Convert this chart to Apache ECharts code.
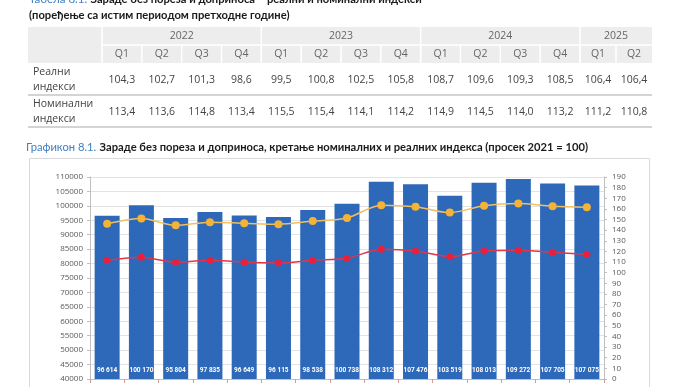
<!DOCTYPE html>
<html><head><meta charset="utf-8">
<script src="https://cdn.jsdelivr.net/npm/echarts/dist/echarts.min.js"></script>
<style>html,body{margin:0;padding:0;background:#fff}#c{width:688px;height:387px}</style>
</head><body><div id="c"></div>
<script>
// ---- table data ----
const tableYears = ['2022', '2023', '2024', '2025'];
const tableYearSpans = [4, 4, 4, 2];
const tableQuarters = ['Q1','Q2','Q3','Q4','Q1','Q2','Q3','Q4','Q1','Q2','Q3','Q4','Q1','Q2'];
const tableRealRow = ['104,3','102,7','101,3','98,6','99,5','100,8','102,5','105,8','108,7','109,6','109,3','108,5','106,4','106,4'];
const tableNominalRow = ['113,4','113,6','114,8','113,4','115,5','115,4','114,1','114,2','114,9','114,5','114,0','113,2','111,2','110,8'];
const tableRowLabels = [['Реални', 'индекси'], ['Номинални', 'индекси']];

// ---- chart data ----
const categories = ['1','2','3','4','5','6','7','8','9','10','11','12','13','14','15'];
const salaries = [96614, 100170, 95804, 97835, 96649, 96115, 98538, 100738, 108312, 107476, 103519, 108013, 109272, 107705, 107075];
const nominalIndex = [146, 151, 144.5, 147.5, 146.5, 145.5, 148.5, 151.5, 163.5, 162, 156.5, 163, 165, 162.5, 161.5];
const realIndex = [111.7, 114.5, 109.8, 111.7, 109.8, 109.1, 111.7, 113.5, 122, 120.4, 115.1, 120.4, 121.1, 119.2, 117.3];

const FONT = '"Open Sans", "Noto Sans", sans-serif';
const TFONT = 'Lato, "Open Sans", sans-serif';
const chart = echarts.init(document.getElementById('c'), null, {renderer: 'canvas'});

// table layout
const tX0 = 28, tX1 = 652, labelColR = 102;
const colEdges = [labelColR];
for (let i = 0; i < 12; i++) colEdges.push(labelColR + (i + 1) * (580 - labelColR) / 12);
colEdges.push(616, 652);
const yHead0 = 27, yHead1 = 45, yHead2 = 63, yRow1 = 95, yRow2 = 127;

const g = [];
g.push({type: 'text', x: 29, y: -0.5, style: {
  text: '{b|Табела 8.1.} {k|Зараде без пореза и доприноса – реални и номинални индекси}', verticalAlign: 'middle',
  rich: {b: {fill: '#3f80c4', font: '11.5px ' + TFONT}, k: {fill: '#1a1a1a', font: 'bold 11.2px ' + TFONT}}
}});
g.push({type: 'text', x: 29, y: 15, style: {text: '(поређење са истим периодом претходне године)', fill: '#1a1a1a', font: 'bold 11.2px ' + TFONT, verticalAlign: 'middle'}});
g.push({type: 'rect', shape: {x: tX0, y: yHead0, width: tX1 - tX0, height: yHead2 - yHead0}, style: {fill: '#ededed'}});
g.push({type: 'line', shape: {x1: labelColR, y1: yHead1, x2: tX1, y2: yHead1}, style: {stroke: '#fff', lineWidth: 1.5}});
let ci = 0;
tableYears.forEach((yr, k) => {
  const xa = colEdges[ci], xb = colEdges[ci + tableYearSpans[k]];
  g.push({type: 'line', shape: {x1: xa, y1: yHead0, x2: xa, y2: yHead2}, style: {stroke: '#fff', lineWidth: 1.5}});
  g.push({type: 'text', x: (xa + xb) / 2, y: (yHead0 + yHead1) / 2, style: {text: yr, fill: '#666', font: '10.5px ' + FONT, align: 'center', verticalAlign: 'middle'}});
  ci += tableYearSpans[k];
});
tableQuarters.forEach((q, i) => {
  const xa = colEdges[i], xb = colEdges[i + 1];
  if (i > 0) g.push({type: 'line', shape: {x1: xa, y1: yHead1, x2: xa, y2: yHead2}, style: {stroke: '#fff', lineWidth: 1.5}});
  const xc = (xa + xb) / 2;
  g.push({type: 'text', x: xc, y: (yHead1 + yHead2) / 2, style: {text: q, fill: '#666', font: '10.5px ' + FONT, align: 'center', verticalAlign: 'middle'}});
  g.push({type: 'text', x: xc, y: (yHead2 + yRow1) / 2 + 1, style: {text: tableRealRow[i], fill: '#444', font: '10.5px ' + FONT, align: 'center', verticalAlign: 'middle'}});
  g.push({type: 'text', x: xc, y: (yRow1 + yRow2) / 2 + 1, style: {text: tableNominalRow[i], fill: '#444', font: '10.5px ' + FONT, align: 'center', verticalAlign: 'middle'}});
});
[[yHead2, yRow1], [yRow1, yRow2]].forEach((r, k) => {
  g.push({type: 'text', x: 33, y: (r[0] + r[1]) / 2 + 1, style: {text: tableRowLabels[k].join('\n'), fill: '#444', font: '10.5px ' + FONT, lineHeight: 15, verticalAlign: 'middle'}});
});
g.push({type: 'line', shape: {x1: tX0, y1: yRow1, x2: tX1, y2: yRow1}, style: {stroke: '#d4d4d4', lineWidth: 2}});
g.push({type: 'line', shape: {x1: tX0, y1: yRow2, x2: tX1, y2: yRow2}, style: {stroke: '#d4d4d4', lineWidth: 2}});
// chart title and frame
g.push({type: 'text', x: 26, y: 147, style: {
  text: '{b|Графикон 8.1.} {k|Зараде без пореза и доприноса, кретање номиналних и реалних индекса (просек 2021 = 100)}', verticalAlign: 'middle',
  rich: {b: {fill: '#3f80c4', font: '11.2px ' + TFONT}, k: {fill: '#1a1a1a', font: 'bold 11.2px ' + TFONT}}
}});
g.push({type: 'rect', shape: {x: 29.5, y: 158.5, width: 620, height: 260}, style: {fill: 'none', stroke: '#d9d9d9', lineWidth: 1}, z: -1});

const fmt = v => String(v).replace(/\B(?=(\d{3})+(?!\d))/g, ' ');

chart.setOption({
  animation: false,
  textStyle: {fontFamily: FONT},
  graphic: g,
  grid: {left: 90, right: 84, top: 177, bottom: 8},
  xAxis: {type: 'category', data: categories,
    axisLine: {lineStyle: {color: '#bfbfbf'}},
    axisTick: {show: true, length: 4, lineStyle: {color: '#c9a0a0'}},
    axisLabel: {show: false}},
  yAxis: [
    {type: 'value', min: 40000, max: 110000, interval: 5000,
      axisLine: {show: true, lineStyle: {color: '#bfbfbf'}},
      axisTick: {show: true, length: 3, lineStyle: {color: '#bfbfbf'}},
      axisLabel: {color: '#595959', fontSize: 8, margin: 7, formatter: v => String(v)},
      splitLine: {lineStyle: {color: '#e3e3e3'}}},
    {type: 'value', min: 0, max: 190, interval: 10, position: 'right',
      axisLine: {show: true, lineStyle: {color: '#bfbfbf'}},
      axisTick: {show: true, length: 3, lineStyle: {color: '#bfbfbf'}},
      axisLabel: {color: '#595959', fontSize: 8, margin: 8, formatter: v => String(v)},
      splitLine: {show: false}}
  ],
  series: [
    {type: 'bar', data: salaries, barWidth: 25, itemStyle: {color: '#2e69b9'},
      label: {show: true, position: 'insideBottom', distance: 5, color: '#fff', fontSize: 6.5, fontWeight: 'bold', fontFamily: 'Roboto', formatter: p => fmt(p.value)}},
    {type: 'line', yAxisIndex: 1, data: nominalIndex, smooth: 0.3, symbol: 'circle', symbolSize: 8,
      lineStyle: {color: '#f0c060', width: 1.5}, itemStyle: {color: '#f4b336'}},
    {type: 'line', yAxisIndex: 1, data: realIndex, smooth: 0.3, symbol: 'circle', symbolSize: 7,
      lineStyle: {color: '#e0364a', width: 1.5}, itemStyle: {color: '#e8203c'}}
  ]
});
</script>
</body></html>
